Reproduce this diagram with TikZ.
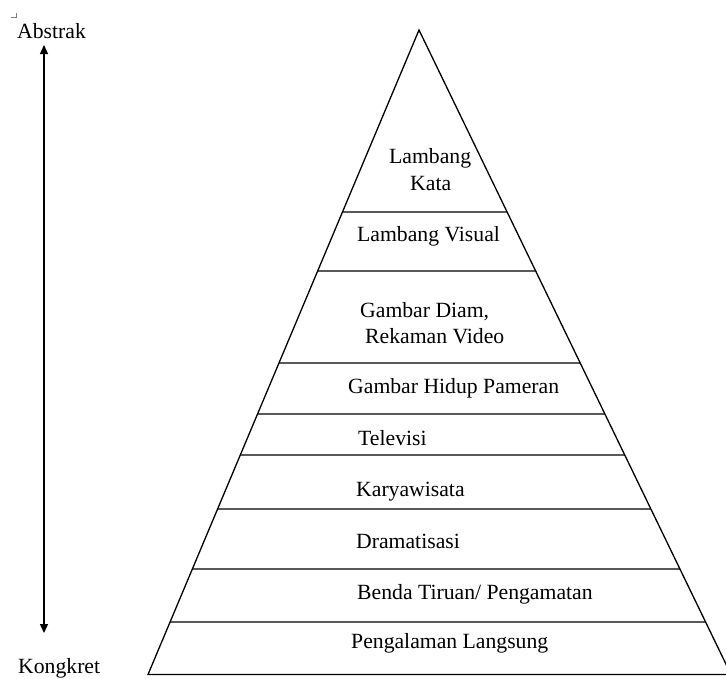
\documentclass[tikz,border=0pt]{standalone}
\usepackage{fontspec}
\setmainfont{Liberation Serif}
\usetikzlibrary{arrows.meta}
\tikzset{
  lbl/.style={anchor=west, inner sep=0pt, font=\fontsize{21.7}{25}\selectfont},
  side/.style={anchor=west, inner sep=0pt, font=\fontsize{21.7}{25}\selectfont},
  edge/.style={line width=1.3pt, line join=miter},
  divider/.style={line width=1.3pt},
  scale arrow/.style={line width=1.3pt, {Triangle[length=9pt,width=8pt]}-{Triangle[length=9pt,width=8pt]}}
}
\begin{document}
\begin{tikzpicture}[x=1pt,y=-1pt]
\useasboundingbox (0,0) rectangle (726,678);
\clip (0,0) rectangle (726,678);
% small corner mark
\draw[gray, line width=0.6pt] (11,17) -- (16,17) -- (16,13);
% pyramid
\coordinate (A) at (419,30);
\coordinate (L) at (148,674.5);
\coordinate (R) at (731,674.5);
\draw[edge] (L) -- (A) -- (R) -- cycle;
\foreach \yy in {212,271,363,414,455,509,569,622}{
  \draw[divider] (intersection of A--L and 0,\yy--1,\yy) -- (intersection of A--R and 0,\yy--1,\yy);
}
% levels
\node[lbl] (n1a) at (389,158) {Lambang};
\node[lbl] (n1b) at (410,183) {Kata};
\node[lbl] (n2) at (357,236) {Lambang Visual};
\node[lbl] (n3a) at (360,312) {Gambar Diam,};
\node[lbl] (n3b) at (365,336) {Rekaman Video};
\node[lbl] (n4) at (348,388) {Gambar Hidup Pameran};
\node[lbl] (n5) at (358,438) {Televisi};
\node[lbl] (n6) at (356,492) {Karyawisata};
\node[lbl] (n7) at (356,541) {Dramatisasi};
\node[lbl] (n8) at (357,594) {Benda Tiruan/ Pengamatan};
\node[lbl] (n9) at (351,643) {Pengalaman Langsung};
% scale
\node[side] (abs) at (17,31) {Abstrak};
\node[side] (kon) at (18,668) {Kongkret};
\coordinate (top) at (44,45);
\coordinate (bot) at (44,633);
\draw[scale arrow] (bot) -- (top);
\end{tikzpicture}
\end{document}
